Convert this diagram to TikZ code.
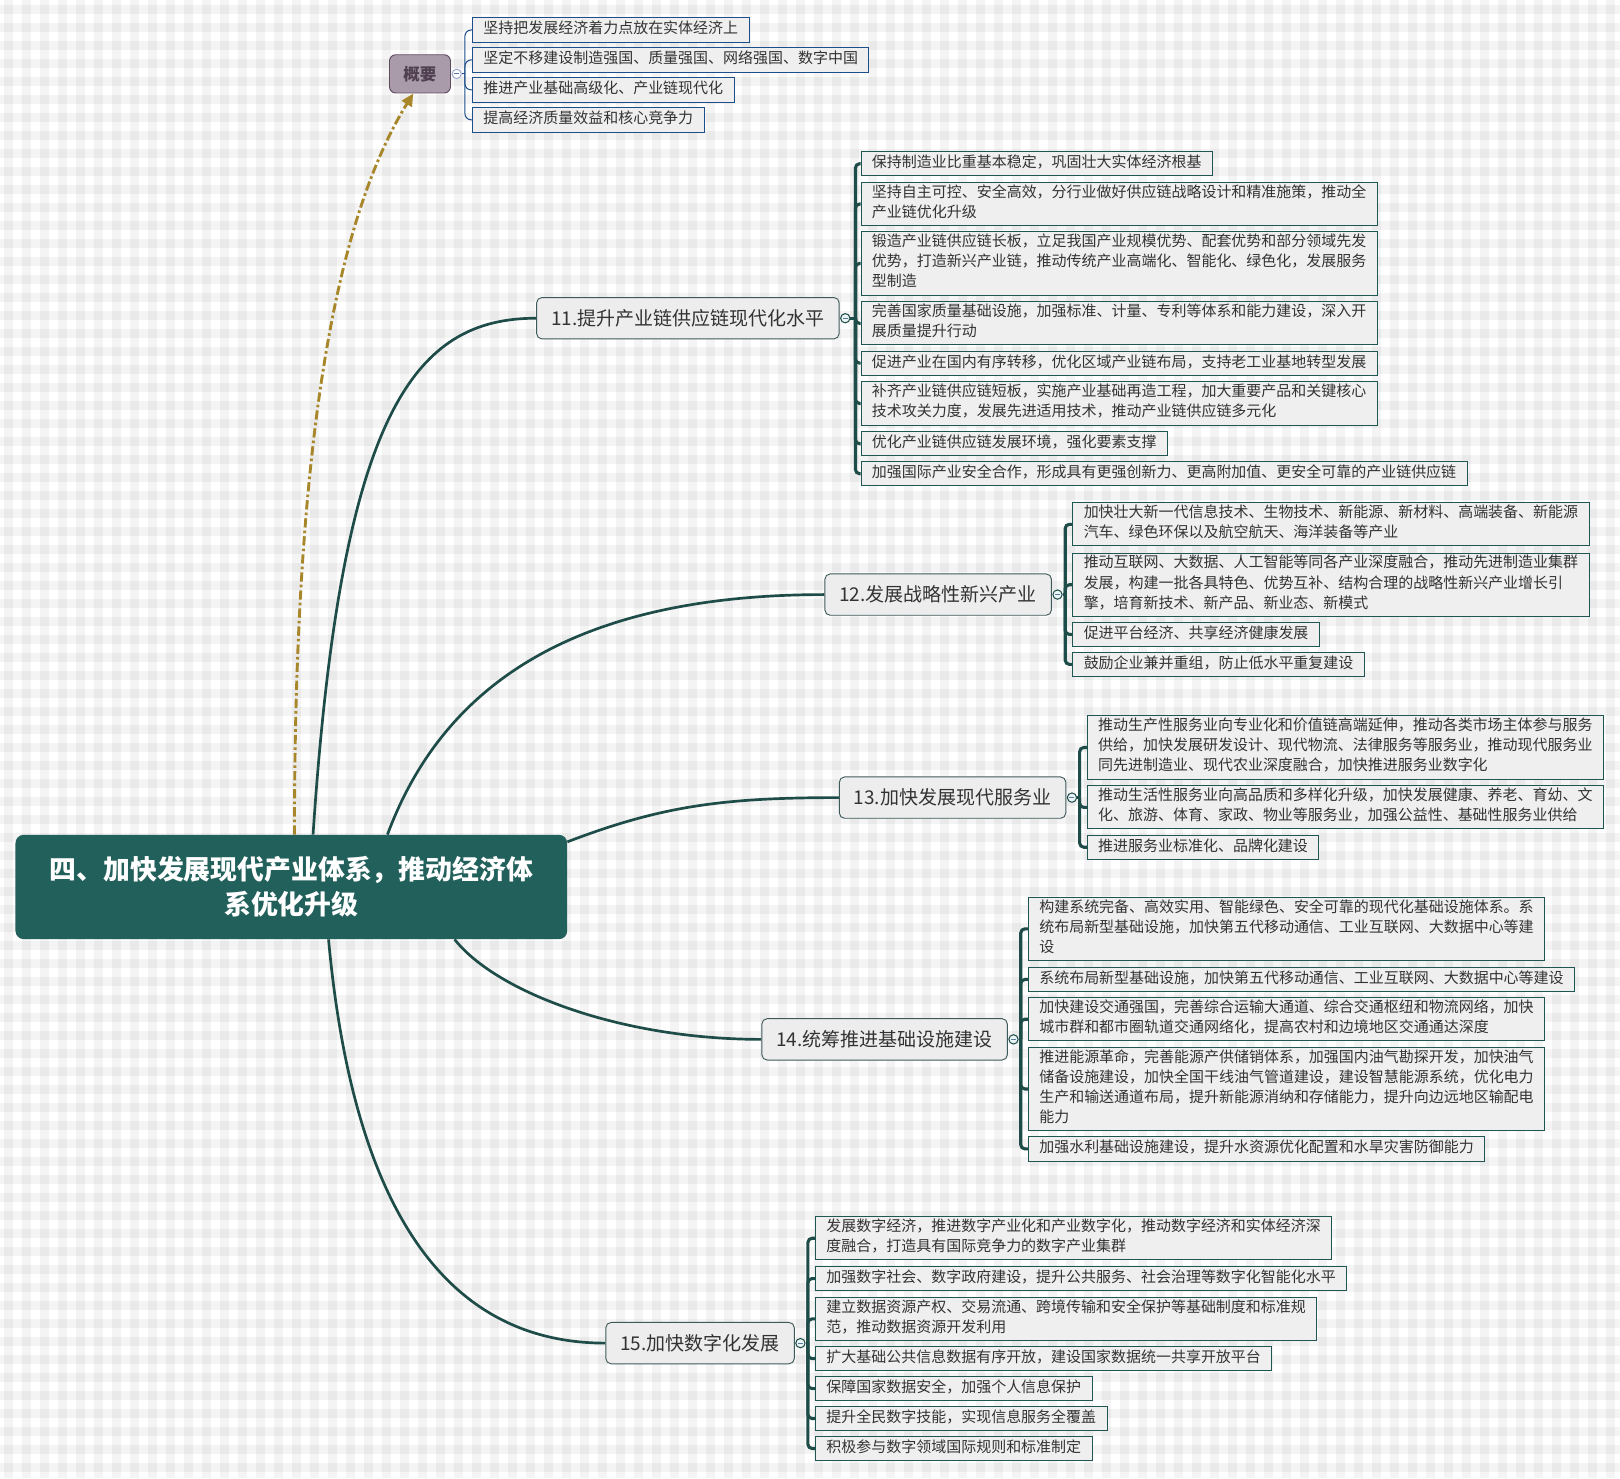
\documentclass[tikz,border=0pt]{standalone}
\usepackage{fontspec}
\setmainfont{Noto Sans CJK SC}
\usetikzlibrary{arrows.meta}
\definecolor{rootfill}{HTML}{22605B}
\definecolor{conncol}{HTML}{1E4C48}
\definecolor{itemborder}{HTML}{1F5652}
\definecolor{itemfill}{HTML}{EFEFEF}
\definecolor{itemtext}{HTML}{333333}
\definecolor{topicfill}{HTML}{EDEDED}
\definecolor{topicborder}{HTML}{3E5A58}
\definecolor{summfill}{HTML}{A99BAA}
\definecolor{summborder}{HTML}{5E4B60}
\definecolor{summtext}{HTML}{4F3F50}
\definecolor{sumblue}{HTML}{1C4F8A}
\definecolor{goldcol}{HTML}{A8862A}
\definecolor{minuscol}{HTML}{5A78A0}
\definecolor{scirc}{HTML}{9AA6D0}
\newcommand\nl{\\\strut}
\pgfdeclarelayer{back}
\pgfdeclarelayer{edges}
\pgfsetlayers{back,edges,main}
\tikzset{
  item/.style={draw=itemborder, line width=0.9pt, fill=itemfill, anchor=west, align=left,
    inner xsep=10.5pt, inner ysep=2pt, font=\fontsize{14.5}{19.5}\selectfont, text=itemtext,
    execute at begin node=\strut},
  sitem/.style={item, draw=sumblue},
  topic/.style={draw=topicborder, line width=0.9pt, fill=topicfill, rounded corners=5pt,
    anchor=west, minimum height=40pt, inner xsep=14pt, font=\fontsize{18.4}{22}\selectfont, text=itemtext},
  collapse/.style={circle, draw=conncol, fill=white!92!teal, line width=1pt, inner sep=0pt, minimum size=9pt,
    path picture={\draw[minuscol, line width=0.9pt] ([xshift=-2.4pt]path picture bounding box.center) -- ([xshift=2.4pt]path picture bounding box.center);}},
  conn/.style={draw=conncol, line width=2.6pt},
  brk/.style={draw=conncol, line width=3pt, rounded corners=4pt},
  sbrk/.style={draw=sumblue, line width=1pt, rounded corners=6pt},
}
\begin{document}
\begin{tikzpicture}[x=1pt,y=-1pt]
\useasboundingbox (0,0) rectangle (1568,1431);
\begin{pgfonlayer}{back}
\fill[white] (0,0) rectangle (1568,1431);
\foreach \i in {0,...,89} \fill[black,opacity=0.045] ({3.9+17.42*\i},0) rectangle ++(8.7,1431);
\foreach \j in {0,...,81} \fill[black,opacity=0.045] (0,{4.8+17.42*\j}) rectangle ++(1568,8.7);
\end{pgfonlayer}

% root
\node[fill=rootfill, rounded corners=8pt, minimum width=534pt, minimum height=101pt, align=center,
  font=\fontsize{26}{34}\selectfont\bfseries, text=white] (root) at (282,858.5)
  {四、加快发展现代产业体系，推动经济体\\系优化升级};

% summary
\node[fill=summfill, draw=summborder, line width=0.9pt, rounded corners=6pt, minimum width=59pt, minimum height=37pt,
  font=\fontsize{16}{20}\selectfont\bfseries, text=summtext] (summ) at (406.5,71.5) {概要};
\node[collapse, draw=scirc, fill=white, line width=0.9pt] (ks) at (442,71.5) {};
\coordinate (bs) at (450,71.5);
\node[sitem] (s1) at (457,29) {坚持把发展经济着力点放在实体经济上};
\node[sitem] (s2) at (457,58) {坚定不移建设制造强国、质量强国、网络强国、数字中国};
\node[sitem] (s3) at (457,87) {推进产业基础高级化、产业链现代化};
\node[sitem] (s4) at (457,116) {提高经济质量效益和核心竞争力};

% topics
\node[topic] (t11) at (519,308) {11.提升产业链供应链现代化水平};
\node[topic] (t12) at (798,575.5) {12.发展战略性新兴产业};
\node[topic] (t13) at (812,772) {13.加快发展现代服务业};
\node[topic] (t14) at (737,1006) {14.统筹推进基础设施建设};
\node[topic] (t15) at (586,1300) {15.加快数字化发展};

\node[collapse] (k11) at ([xshift=5.5pt]t11.east) {};
\node[collapse] (k12) at ([xshift=5.5pt]t12.east) {};
\node[collapse] (k13) at ([xshift=5.5pt]t13.east) {};
\node[collapse] (k14) at ([xshift=5.5pt]t14.east) {};
\node[collapse] (k15) at ([xshift=5.5pt]t15.east) {};
\coordinate (b11) at (828,308);
\coordinate (b12) at (1031,575.5);
\coordinate (b13) at (1045,772);
\coordinate (b14) at (988,1006);
\coordinate (b15) at (782,1300);

% branch 11
\node[item] (c11a) at (833,158.5) {保持制造业比重基本稳定，巩固壮大实体经济根基};
\node[item] (c11b) at (833,197.5) {坚持自主可控、安全高效，分行业做好供应链战略设计和精准施策，推动全\nl 产业链优化升级};
\node[item] (c11c) at (833,255) {锻造产业链供应链长板，立足我国产业规模优势、配套优势和部分领域先发\nl 优势，打造新兴产业链，推动传统产业高端化、智能化、绿色化，发展服务\nl 型制造};
\node[item] (c11d) at (833,313) {完善国家质量基础设施，加强标准、计量、专利等体系和能力建设，深入开\nl 展质量提升行动};
\node[item] (c11e) at (833,351.5) {促进产业在国内有序转移，优化区域产业链布局，支持老工业基地转型发展};
\node[item] (c11f) at (833,390.5) {补齐产业链供应链短板，实施产业基础再造工程，加大重要产品和关键核心\nl 技术攻关力度，发展先进适用技术，推动产业链供应链多元化};
\node[item] (c11g) at (833,429.5) {优化产业链供应链发展环境，强化要素支撑};
\node[item] (c11h) at (833,458.5) {加强国际产业安全合作，形成具有更强创新力、更高附加值、更安全可靠的产业链供应链};

% branch 12
\node[item] (c12a) at (1038,507.5) {加快壮大新一代信息技术、生物技术、新能源、新材料、高端装备、新能源\nl 汽车、绿色环保以及航空航天、海洋装备等产业};
\node[item] (c12b) at (1038,566) {推动互联网、大数据、人工智能等同各产业深度融合，推动先进制造业集群\nl 发展，构建一批各具特色、优势互补、结构合理的战略性新兴产业增长引\nl 擎，培育新技术、新产品、新业态、新模式};
\node[item] (c12c) at (1038,614) {促进平台经济、共享经济健康发展};
\node[item] (c12d) at (1038,643) {鼓励企业兼并重组，防止低水平重复建设};

% branch 13
\node[item] (c13a) at (1052,723.5) {推动生产性服务业向专业化和价值链高端延伸，推动各类市场主体参与服务\nl 供给，加快发展研发设计、现代物流、法律服务等服务业，推动现代服务业\nl 同先进制造业、现代农业深度融合，加快推进服务业数字化};
\node[item] (c13b) at (1052,781.5) {推动生活性服务业向高品质和多样化升级，加快发展健康、养老、育幼、文\nl 化、旅游、体育、家政、物业等服务业，加强公益性、基础性服务业供给};
\node[item] (c13c) at (1052,820) {推进服务业标准化、品牌化建设};

% branch 14
\node[item] (c14a) at (995,899) {构建系统完备、高效实用、智能绿色、安全可靠的现代化基础设施体系。系\nl 统布局新型基础设施，加快第五代移动通信、工业互联网、大数据中心等建\nl 设};
\node[item] (c14b) at (995,948) {系统布局新型基础设施，加快第五代移动通信、工业互联网、大数据中心等建设};
\node[item] (c14c) at (995,986.5) {加快建设交通强国，完善综合运输大通道、综合交通枢纽和物流网络，加快\nl 城市群和都市圈轨道交通网络化，提高农村和边境地区交通通达深度};
\node[item] (c14d) at (995,1054) {推进能源革命，完善能源产供储销体系，加强国内油气勘探开发，加快油气\nl 储备设施建设，加快全国干线油气管道建设，建设智慧能源系统，优化电力\nl 生产和输送通道布局，提升新能源消纳和存储能力，提升向边远地区输配电\nl 能力};
\node[item] (c14e) at (995,1112) {加强水利基础设施建设，提升水资源优化配置和水旱灾害防御能力};

% branch 15
\node[item] (c15a) at (789,1198.5) {发展数字经济，推进数字产业化和产业数字化，推动数字经济和实体经济深\nl 度融合，打造具有国际竞争力的数字产业集群};
\node[item] (c15b) at (789,1237.5) {加强数字社会、数字政府建设，提升公共服务、社会治理等数字化智能化水平};
\node[item] (c15c) at (789,1276.5) {建立数据资源产权、交易流通、跨境传输和安全保护等基础制度和标准规\nl 范，推动数据资源开发利用};
\node[item] (c15d) at (789,1315) {扩大基础公共信息数据有序开放，建设国家数据统一共享开放平台};
\node[item] (c15e) at (789,1344) {保障国家数据安全，加强个人信息保护};
\node[item] (c15f) at (789,1373) {提升全民数字技能，实现信息服务全覆盖};
\node[item] (c15g) at (789,1402) {积极参与数字领域国际规则和标准制定};

\begin{pgfonlayer}{edges}
% root to topics
\draw[conn] ([xshift=21pt]root.north) .. controls (330,400) and (400,308) .. (t11.west);
\draw[conn] ([xshift=93pt]root.north) .. controls (430,660) and (560,575.5) .. (t12.west);
\draw[conn] ([yshift=-7pt]root.north east) .. controls (640,780) and (700,772) .. (t13.west);
\draw[conn] ([xshift=158pt]root.south) .. controls (480,960) and (600,1006) .. (t14.west);
\draw[conn] ([xshift=36pt]root.south) .. controls (340,1150) and (420,1300) .. (t15.west);
% summary arrow
\draw[goldcol, line width=2.8pt, dash pattern=on 9pt off 3pt on 2.5pt off 3pt,
  -{Triangle[length=12pt,width=11pt]}] ([xshift=3pt]root.north) .. controls (285,450) and (320,220) .. ([xshift=-6.5pt]summ.south);
% summary bracket
\draw[sumblue, line width=1pt] (ks) -- (bs);
\foreach \c in {1,2,3,4} \draw[sbrk] (bs) |- (s\c.west);
% topic brackets
\draw[brk] (k11) -- (b11);
\foreach \c in {a,b,c,d,e,f,g,h} \draw[brk] (b11) |- (c11\c.west);
\draw[brk] (k12) -- (b12);
\foreach \c in {a,b,c,d} \draw[brk] (b12) |- (c12\c.west);
\draw[brk] (k13) -- (b13);
\foreach \c in {a,b,c} \draw[brk] (b13) |- (c13\c.west);
\draw[brk] (k14) -- (b14);
\foreach \c in {a,b,c,d,e} \draw[brk] (b14) |- (c14\c.west);
\draw[brk] (k15) -- (b15);
\foreach \c in {a,b,c,d,e,f,g} \draw[brk] (b15) |- (c15\c.west);
\end{pgfonlayer}
\end{tikzpicture}
\end{document}
